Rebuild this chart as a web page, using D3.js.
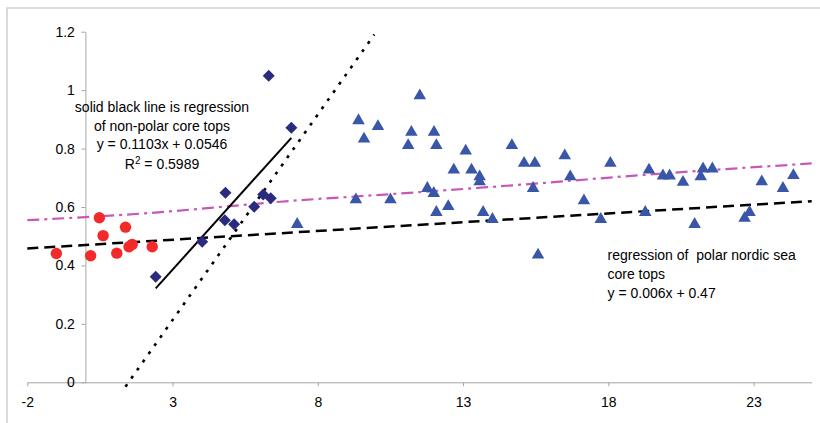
<!DOCTYPE html>
<html>
<head>
<meta charset="utf-8">
<script src="https://cdn.jsdelivr.net/npm/d3@7"></script>
<style>
  body { margin: 0; background: #fff; }
  svg { display: block; font-family: "Liberation Sans", Arial, sans-serif; }
</style>
</head>
<body>
<svg id="chart" width="820" height="423"></svg>
<script>
const svg = d3.select("#chart");
const width = +svg.attr("width");
const height = +svg.attr("height");

// non-polar nordic core tops (red circles)
const circleX = [-1.0, 0.18, 0.48, 0.61, 1.08, 1.38, 1.5, 1.61, 2.3];
const circleY = [0.441, 0.433, 0.563, 0.502, 0.442, 0.531, 0.464, 0.472, 0.464];

// non-polar core tops (diamonds)
const diamondX = [2.42, 4.02, 4.82, 4.8, 5.12, 5.81, 6.12, 6.38, 6.31, 7.09];
const diamondY = [0.361, 0.481, 0.649, 0.555, 0.541, 0.601, 0.643, 0.63, 1.049, 0.871];

// polar nordic sea core tops (triangles)
const triX = [7.29, 9.4, 9.59, 10.07, 9.31, 10.5, 11.51, 11.22, 11.11, 12.0, 12.08, 11.77,
  11.99, 12.08, 12.49, 12.68, 13.09, 13.29, 13.57, 13.57, 13.69, 14.01, 14.68, 15.1, 15.47,
  15.41, 15.58, 16.5, 16.69, 18.07, 17.16, 17.74, 19.4, 19.27, 19.88, 20.11, 20.57, 21.26,
  21.58, 21.18, 20.97, 22.69, 22.86, 23.28, 24.01, 24.37];
const triY = [0.546, 0.901, 0.838, 0.881, 0.63, 0.63, 0.986, 0.861, 0.816, 0.861, 0.816, 0.669,
  0.652, 0.587, 0.607, 0.732, 0.797, 0.732, 0.709, 0.692, 0.587, 0.563, 0.816, 0.755, 0.755,
  0.669, 0.441, 0.781, 0.709, 0.755, 0.627, 0.563, 0.732, 0.587, 0.712, 0.712, 0.69, 0.736,
  0.736, 0.709, 0.546, 0.567, 0.587, 0.692, 0.669, 0.713];

// magenta trend curve
const trendX = [-2, 2, 5, 6.7, 10.5, 13.6, 15.6, 19.1, 25];
const trendY = [0.555, 0.578, 0.603, 0.618, 0.644, 0.666, 0.681, 0.709, 0.749];

// regression lines: slope, intercept
const solidFit = { m: 0.1103, b: 0.0546 };
const dashFit = { m: 0.006, b: 0.47 };
const dotFit = { m: 0.1407, b: -0.209, yFrom: -0.015, yTo: 1.19 };

const xTicks = [-2, 3, 8, 13, 18, 23];
const yTicks = [0, 0.2, 0.4, 0.6, 0.8, 1, 1.2];

const x = d3.scaleLinear().domain([-2, 25]).range([27.3, 811.7]);
const y = d3.scaleLinear().domain([0, 1.2]).range([382.3, 31.7]);

// outer frame (cut off at right and bottom)
svg.append("rect")
  .attr("x", 7).attr("y", 8)
  .attr("width", width + 10).attr("height", height + 10)
  .attr("fill", "none")
  .attr("stroke", "#cfcfcf")
  .attr("stroke-width", 1.5);

// axes
const axisColor = "#a6a6a6";
const xAxis = svg.append("g")
  .attr("transform", `translate(0,${y(0)})`)
  .call(d3.axisBottom(x).tickValues(xTicks).tickSize(4).tickSizeOuter(0).tickPadding(10.5)
    .tickFormat(d => d));
const yAxis = svg.append("g")
  .attr("transform", `translate(${x(0)},0)`)
  .call(d3.axisLeft(y).tickValues(yTicks).tickSize(4).tickSizeOuter(0).tickPadding(6.5)
    .tickFormat(d => d));

[xAxis, yAxis].forEach(g => {
  g.select(".domain").attr("stroke", axisColor);
  g.selectAll(".tick line").attr("stroke", axisColor);
  g.selectAll(".tick text")
    .attr("fill", "#000")
    .style("font-size", "14px")
    .style("font-family", "'Liberation Sans', Arial, sans-serif");
});

const line = d3.line().x(d => x(d[0])).y(d => y(d[1]));

// dashed regression of polar nordic sea core tops
svg.append("path")
  .attr("d", line(x.domain().map(v => [v, dashFit.m * v + dashFit.b])))
  .attr("fill", "none")
  .attr("stroke", "#000")
  .attr("stroke-width", 2.5)
  .attr("stroke-dasharray", "11,6");

// magenta dash-dot trend
svg.append("path")
  .attr("d", line.curve(d3.curveMonotoneX)(trendX.map((v, i) => [v, trendY[i]])))
  .attr("fill", "none")
  .attr("stroke", "#c858b8")
  .attr("stroke-width", 2.2)
  .attr("stroke-dasharray", "12,5,3,5");
line.curve(d3.curveLinear);

// dotted steep line
const dotPts = [dotFit.yFrom, dotFit.yTo].map(v => [(v - dotFit.b) / dotFit.m, v]);
svg.append("path")
  .attr("d", line(dotPts))
  .attr("fill", "none")
  .attr("stroke", "#000")
  .attr("stroke-width", 2.6)
  .attr("stroke-dasharray", "3,7");

// solid regression over diamond extent
const dExt = d3.extent(diamondX);
svg.append("path")
  .attr("d", line(dExt.map(v => [v, solidFit.m * v + solidFit.b])))
  .attr("fill", "none")
  .attr("stroke", "#000")
  .attr("stroke-width", 2);

// markers
svg.append("g").selectAll("circle")
  .data(circleX.map((v, i) => [v, circleY[i]]))
  .join("circle")
  .attr("cx", d => x(d[0]))
  .attr("cy", d => y(d[1]))
  .attr("r", 5.7)
  .attr("fill", "#f32a2a");

const diamond = d3.symbol(d3.symbolSquare, 72);
svg.append("g").selectAll("path")
  .data(diamondX.map((v, i) => [v, diamondY[i]]))
  .join("path")
  .attr("d", diamond)
  .attr("transform", d => `translate(${x(d[0])},${y(d[1])}) rotate(45)`)
  .attr("fill", "#2b2b7d");

const tri = d3.symbol(d3.symbolTriangle, 68);
svg.append("g").selectAll("path")
  .data(triX.map((v, i) => [v, triY[i]]))
  .join("path")
  .attr("d", tri)
  .attr("transform", d => `translate(${x(d[0])},${y(d[1]) + 1.5})`)
  .attr("fill", "#3956a8");

// annotations
const leftNote = svg.append("text")
  .attr("text-anchor", "middle")
  .style("font-size", "14px")
  .attr("fill", "#000");
[["solid black line is regression", 111.5], ["of non-polar core tops", 130.5],
 ["y = 0.1103x + 0.0546", 149]].forEach(([t, yy]) => {
  leftNote.append("tspan").attr("x", 162).attr("y", yy).text(t);
});
const r2 = leftNote.append("tspan").attr("x", 162).attr("y", 169);
r2.append("tspan").text("R");
r2.append("tspan").attr("dy", -5).style("font-size", "10px").text("2");
r2.append("tspan").attr("dy", 5).text(" = 0.5989");

const rightNote = svg.append("text")
  .style("font-size", "14px")
  .attr("fill", "#000");
[["regression of  polar nordic sea", 260], ["core tops", 279],
 ["y = 0.006x + 0.47", 297.5]].forEach(([t, yy]) => {
  rightNote.append("tspan").attr("x", 607.5).attr("y", yy)
    .attr("xml:space", "preserve").style("white-space", "pre").text(t);
});
</script>
</body>
</html>
